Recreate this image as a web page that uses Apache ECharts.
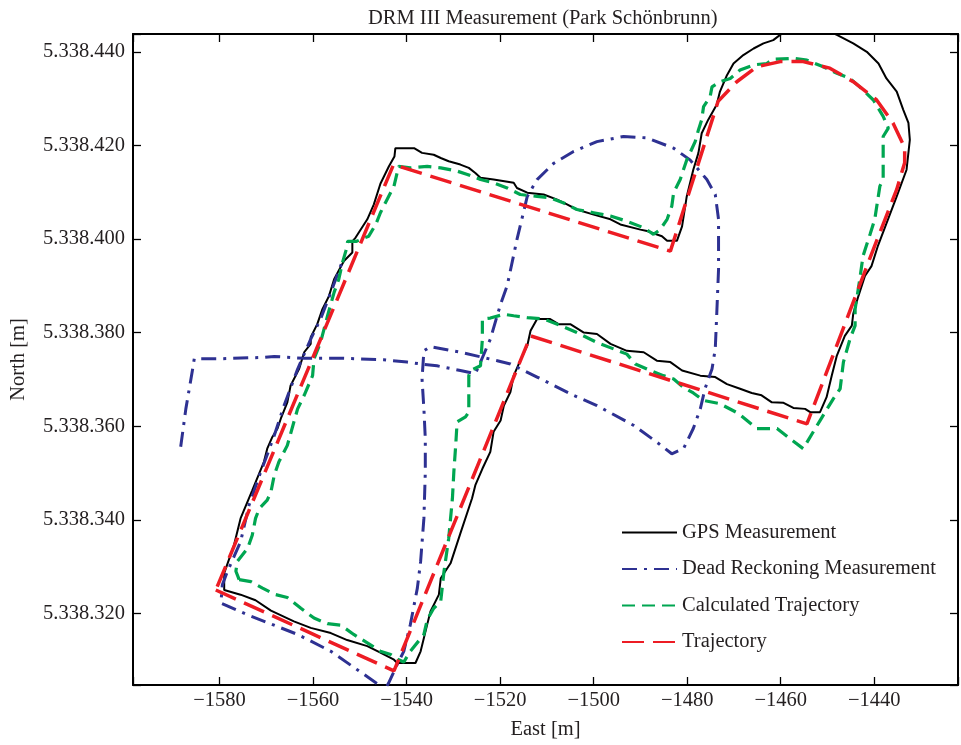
<!DOCTYPE html>
<html>
<head>
<meta charset="utf-8">
<title>DRM III Measurement</title>
<script src="https://cdn.jsdelivr.net/npm/echarts@6/dist/echarts.min.js"></script>
<style>
html, body { margin: 0; padding: 0; background: #fff; }
#chart { width: 961px; height: 745px; }
</style>
</head>
<body>
<div id="chart"></div>
<script>
// GPS measurement (black, solid)
const gpsEast = [-1579.0,-1579.0,-1575.5,-1572.3,-1569.0,-1564.1,-1560.5,-1556.2,-1552.7,-1548.4,
    -1545.6,-1542.7,-1542.0,-1538.1,-1537.0,-1535.6,-1534.9,-1533.1,-1532.7,-1530.6,
    -1528.5,-1526.0,-1525.3,-1523.8,-1522.1,-1521.4,-1519.9,-1519.2,-1517.8,-1517.1,
    -1515.7,-1514.2,-1513.5,-1512.1,-1509.3,-1507.5,-1505.0,-1502.1,-1499.3,-1496.4,
    -1492.9,-1489.3,-1486.5,-1483.6,-1481.1,-1477.2,-1474.0,-1471.5,-1468.7,-1466.2,
    -1464.1,-1461.9,-1459.4,-1457.3,-1454.8,-1453.7,-1451.6,-1450.2,-1449.1,-1448.0,
    -1446.3,-1444.8,-1444.5,-1443.4,-1442.0,-1440.6,-1439.2,-1435.2,-1433.1,-1432.4,
    -1432.7,-1433.8,-1435.2,-1437.4,-1439.1,-1441.6,-1444.5,-1448.0,-1449.9,-1459.1,
    -1461.6,-1463.7,-1465.8,-1468.0,-1470.1,-1471.5,-1473.0,-1473.7,-1475.5,-1476.9,
    -1477.6,-1478.7,-1480.1,-1481.1,-1482.2,-1484.3,-1485.4,-1488.6,-1490.0,-1494.3,
    -1496.4,-1500.0,-1503.6,-1505.7,-1507.8,-1510.7,-1514.2,-1516.4,-1517.1,-1521.4,
    -1524.2,-1525.3,-1526.7,-1528.5,-1531.0,-1532.7,-1534.2,-1536.7,-1538.4,-1542.4,
    -1542.6,-1543.8,-1545.6,-1547.0,-1548.4,-1550.9,-1551.6,-1551.6,-1553.4,-1555.5,
    -1556.6,-1558.0,-1559.1,-1560.5,-1560.5,-1561.9,-1563.0,-1564.8,-1565.5,-1566.9,
    -1567.6,-1568.7,-1569.8,-1570.5,-1573.0,-1575.5,-1576.9,-1579.0];
const gpsNorth = [5338328.6,5338325.0,5338324.0,5338322.8,5338320.6,5338318.3,5338316.9,5338315.8,5338314.3,5338313.0,
    5338311.6,5338310.1,5338309.4,5338309.4,5338311.9,5338317.6,5338320.4,5338324.0,5338327.5,5338330.7,
    5338337.1,5338344.6,5338347.4,5338350.9,5338354.5,5338358.8,5338361.2,5338364.4,5338367.3,5338370.8,
    5338374.0,5338377.2,5338380.4,5338382.9,5338382.9,5338381.8,5338381.8,5338380.0,5338379.7,5338377.6,
    5338376.1,5338375.8,5338374.0,5338373.7,5338371.9,5338370.8,5338370.5,5338369.0,5338368.0,5338367.1,
    5338366.6,5338365.1,5338365.0,5338363.9,5338363.7,5338363.0,5338363.0,5338366.2,5338370.8,5338375.1,
    5338379.3,5338381.5,5338384.0,5338387.8,5338392.1,5338394.2,5338398.6,5338409.1,5338414.8,5338421.2,
    5338424.8,5338427.6,5338431.5,5338434.3,5338437.5,5338440.0,5338441.8,5338443.6,5338444.4,5338444.4,
    5338442.5,5338441.8,5338440.7,5338439.3,5338437.5,5338435.0,5338431.5,5338428.7,5338425.5,5338422.6,
    5338418.4,5338414.8,5338409.1,5338402.7,5338399.6,5338399.6,5338400.6,5338401.7,5338402.0,5338403.1,
    5338404.2,5338405.2,5338406.3,5338407.4,5338408.4,5338409.5,5338409.9,5338410.9,5338412.0,5338412.7,
    5338413.1,5338414.1,5338415.2,5338415.9,5338416.6,5338417.3,5338418.0,5338418.4,5338419.4,5338419.4,
    5338417.6,5338415.5,5338411.8,5338407.4,5338404.2,5338400.3,5338399.5,5338397.1,5338395.3,5338391.4,
    5338387.8,5338385.0,5338381.8,5338379.0,5338377.6,5338375.8,5338372.2,5338368.7,5338365.1,5338361.6,
    5338359.5,5338357.7,5338355.2,5338352.4,5338346.3,5338340.3,5338334.6,5338328.6];

// dead reckoning (blue, dash-dot)
const drEast = [-1588.3,-1587.2,-1585.8,-1585.4,-1580.4,-1570.5,-1568.3,-1561.9,-1553.4,-1544.9,
    -1539.9,-1537.0,-1533.5,-1528.5,-1525.3,-1524.2,-1522.1,-1519.9,-1518.5,-1516.4,
    -1514.2,-1512.1,-1508.5,-1504.3,-1499.3,-1493.6,-1488.6,-1482.9,-1479.4,-1475.8,
    -1474.0,-1473.3,-1473.3,-1473.7,-1474.0,-1474.7,-1476.2,-1477.2,-1478.7,-1480.8,
    -1483.3,-1486.5,-1491.5,-1499.3,-1504.3,-1512.1,-1517.8,-1520.6,-1528.5,-1534.9,
    -1536.3,-1536.7,-1536.3,-1536.0,-1536.0,-1536.3,-1537.0,-1537.7,-1539.2,-1540.6,
    -1542.0,-1543.9,-1544.9,-1546.3,-1556.2,-1563.3,-1574.0,-1579.7,-1579.4,-1578.3,
    -1575.5,-1573.7,-1571.2,-1570.1,-1568.3,-1566.2,-1563.3,-1560.5,-1558.4,-1556.2,-1553.7];
const drNorth = [5338355.6,5338363.7,5338371.9,5338374.4,5338374.4,5338374.7,5338374.9,5338374.5,5338374.5,5338374.2,
    5338373.7,5338373.3,5338372.9,5338371.9,5338371.2,5338373.7,5338378.6,5338386.1,5338390.0,5338399.9,
    5338409.1,5338412.7,5338416.2,5338418.7,5338420.8,5338421.9,5338421.6,5338419.4,5338416.9,5338412.7,
    5338409.5,5338404.2,5338393.5,5338383.6,5338376.5,5338372.2,5338368.0,5338363.7,5338359.5,5338355.2,
    5338354.1,5338356.6,5338360.2,5338364.4,5338366.6,5338370.5,5338373.3,5338374.0,5338375.8,5338377.0,
    5338376.1,5338370.1,5338363.7,5338357.3,5338350.2,5338340.3,5338331.1,5338325.4,5338317.6,5338311.9,
    5338309.1,5338305.0,5338303.3,5338305.0,5338311.9,5338315.5,5338319.7,5338322.2,5338326.1,5338329.0,
    5338335.3,5338343.1,5338350.2,5338353.1,5338358.0,5338364.4,5338372.2,5338378.6,5338382.9,5338388.6,5338395.3];

// calculated trajectory (green, dashed)
const calcEast = [-1575.8,-1573.3,-1570.8,-1568.3,-1565.5,-1562.6,-1559.8,-1556.9,-1554.1,-1551.3,
    -1548.4,-1545.6,-1543.4,-1541.7,-1540.6,-1539.2,-1536.3,-1535.6,-1534.2,-1532.7,
    -1532.0,-1531.0,-1530.2,-1529.9,-1529.5,-1529.2,-1527.4,-1526.7,-1526.7,-1526.3,
    -1524.2,-1523.8,-1523.8,-1522.1,-1519.2,-1517.1,-1514.2,-1510.7,-1507.1,-1503.6,
    -1499.3,-1495.7,-1492.9,-1491.1,-1488.6,-1485.1,-1482.9,-1480.8,-1478.7,-1476.5,
    -1473.0,-1469.0,-1465.1,-1460.8,-1458.0,-1455.2,-1451.6,-1448.8,-1447.3,-1446.6,
    -1445.2,-1444.1,-1444.1,-1443.1,-1442.4,-1440.9,-1439.9,-1438.8,-1438.1,-1438.1,
    -1437.0,-1438.1,-1440.2,-1443.1,-1445.2,-1448.0,-1450.9,-1454.4,-1457.3,-1461.6,
    -1463.0,-1465.8,-1468.7,-1470.8,-1473.0,-1474.7,-1475.1,-1476.5,-1476.9,-1477.6,
    -1478.3,-1479.4,-1480.1,-1481.5,-1482.9,-1483.3,-1484.3,-1485.8,-1487.2,-1489.3,
    -1492.9,-1496.4,-1500.0,-1503.6,-1506.4,-1509.3,-1512.1,-1515.7,-1518.5,-1521.4,
    -1524.2,-1527.0,-1529.2,-1532.7,-1535.6,-1539.2,-1541.7,-1542.7,-1544.5,-1545.6,
    -1546.6,-1548.1,-1550.7,-1552.6,-1553.0,-1553.7,-1554.5,-1555.5,-1556.9,-1558.4,
    -1559.8,-1560.1,-1561.9,-1563.3,-1564.1,-1565.5,-1567.3,-1568.3,-1569.0,-1569.8,
    -1571.5,-1572.3,-1573.0,-1574.0,-1576.2,-1576.5,-1575.8];
const calcNorth = [5338327.2,5338326.8,5338325.4,5338324.1,5338323.4,5338321.1,5338319.0,5338317.8,5338317.5,5338315.5,
    5338313.7,5338311.9,5338311.2,5338310.1,5338309.6,5338311.9,5338315.5,5338318.6,5338321.1,5338322.6,
    5338329.0,5338336.0,5338344.6,5338350.2,5338355.9,5338360.9,5338362.0,5338363.0,5338370.8,5338371.9,
    5338372.9,5338378.6,5338382.9,5338383.1,5338383.9,5338383.6,5338383.2,5338382.9,5338381.5,5338380.0,
    5338377.9,5338376.5,5338375.4,5338373.3,5338372.2,5338370.8,5338370.1,5338368.3,5338367.1,5338365.5,
    5338364.8,5338362.7,5338359.5,5338359.5,5338357.3,5338355.2,5338361.2,5338365.8,5338368.0,5338373.7,
    5338378.6,5338381.5,5338385.0,5338391.4,5338396.4,5338401.0,5338404.2,5338411.3,5338412.7,5338421.9,
    5338423.7,5338426.2,5338429.7,5338432.5,5338434.3,5338435.4,5338436.8,5338438.2,5338438.6,5338438.4,
    5338437.5,5338437.2,5338436.1,5338434.3,5338433.6,5338432.5,5338430.4,5338428.3,5338425.5,5338423.3,
    5338420.8,5338418.4,5338416.9,5338412.7,5338409.9,5338407.0,5338404.2,5338402.0,5338401.0,5338402.4,
    5338403.8,5338404.9,5338405.6,5338406.3,5338407.7,5338408.8,5338409.1,5338409.5,5338410.9,5338412.0,
    5338412.7,5338413.8,5338414.5,5338415.2,5338415.5,5338415.2,5338415.5,5338411.3,5338407.8,5338405.6,
    5338403.1,5338400.6,5338399.5,5338399.5,5338397.4,5338395.0,5338391.4,5338388.6,5338383.6,5338377.9,
    5338374.4,5338370.8,5338366.6,5338363.7,5338360.9,5338355.9,5338352.4,5338349.5,5338346.0,5338344.2,
    5338342.4,5338340.3,5338336.7,5338333.9,5338331.1,5338329.0,5338327.2];

// planned trajectory (red, long dash)
const trajEast = [-1580.8,-1542.7,-1513.5,-1454.4,-1440.2,-1435.2,-1433.5,-1433.5,-1436.0,-1439.5,
    -1444.5,-1449.5,-1455.2,-1460.1,-1465.1,-1469.4,-1473.4,-1483.6,-1542.8,-1580.8];
const trajNorth = [5338325.0,5338307.7,5338379.3,5338360.5,5338397.8,5338410.6,5338416.3,5338419.5,5338424.8,5338429.7,
    5338433.6,5338436.5,5338437.9,5338437.9,5338436.8,5338433.6,5338429.4,5338397.4,5338415.9,5338325.0];

const xTicks = [-1580, -1560, -1540, -1520, -1500, -1480, -1460, -1440];
const yTicks = [5338320, 5338340, 5338360, 5338380, 5338400, 5338420, 5338440];

const font = 'Liberation Serif';
const textColor = '#231f20';

const zip = (xs, ys) => xs.map((x, i) => [x, ys[i]]);

const fmtX = v => {
    const r = Math.round(v);
    if (Math.abs(v - r) > 1e-6 || xTicks.indexOf(r) < 0) return '';
    return r < 0 ? '\u2212' + Math.abs(r) : String(r);
};
const fmtY = v => {
    const r = Math.round(v);
    if (Math.abs(v - r) > 1e-6 || yTicks.indexOf(r) < 0) return '';
    return String(r).replace(/\B(?=(\d{3})+(?!\d))/g, '.');
};

const axisLine = {show: true, onZero: false, lineStyle: {color: '#000', width: 2}};
const axisTick = {show: true, inside: true, length: 8, lineStyle: {color: '#000', width: 1.3}};
const xRange = {min: -1598.5, max: -1422.1, splitNumber: 8};
const yRange = {min: 5338304.7, max: 5338443.8, splitNumber: 7};

const chart = echarts.init(document.getElementById('chart'));
chart.setOption({
    animation: false,
    backgroundColor: '#fff',
    title: {
        text: 'DRM III Measurement (Park Schönbrunn)',
        left: 368,
        top: 8,
        padding: 0,
        textStyle: {fontFamily: font, fontSize: 20.5, fontWeight: 'normal', color: textColor},
    },
    grid: {left: 132, right: 3, top: 34, bottom: 58, containLabel: false},
    legend: {
        orient: 'vertical',
        left: 621,
        top: 522,
        padding: 0,
        itemWidth: 55,
        itemHeight: 14,
        itemGap: 15.5,
        itemStyle: {opacity: 0}, // no marker, just the line
        textStyle: {fontFamily: font, fontSize: 20.5, color: textColor, lineHeight: 20},
        data: ['GPS Measurement', 'Dead Reckoning Measurement', 'Calculated Trajectory', 'Trajectory'],
    },
    xAxis: [
        Object.assign({
            type: 'value',
            position: 'bottom',
            name: 'East [m]',
            nameLocation: 'middle',
            nameGap: 34,
            nameTextStyle: {fontFamily: font, fontSize: 20.5, color: textColor},
            axisLine, axisTick,
            splitLine: {show: false},
            axisLabel: {formatter: fmtX, margin: 5, fontFamily: font, fontSize: 20.5, color: textColor},
        }, xRange),
        Object.assign({
            type: 'value',
            position: 'top',
            axisLine, axisTick,
            splitLine: {show: false},
            axisLabel: {show: false},
        }, xRange),
    ],
    yAxis: [
        Object.assign({
            type: 'value',
            position: 'left',
            name: 'North [m]',
            nameLocation: 'middle',
            nameRotate: 90,
            nameGap: 104,
            nameTextStyle: {fontFamily: font, fontSize: 20.5, color: textColor},
            axisLine, axisTick,
            splitLine: {show: false},
            axisLabel: {formatter: fmtY, margin: 8, fontFamily: font, fontSize: 20.5, color: textColor},
        }, yRange),
        Object.assign({
            type: 'value',
            position: 'right',
            axisLine, axisTick,
            splitLine: {show: false},
            axisLabel: {show: false},
        }, yRange),
    ],
    series: [
        {
            name: 'GPS Measurement',
            type: 'line',
            data: zip(gpsEast, gpsNorth),
            symbol: 'none',
            itemStyle: {color: '#000000'},
            lineStyle: {color: '#000000', width: 2},
        },
        {
            name: 'Dead Reckoning Measurement',
            type: 'line',
            data: zip(drEast, drNorth),
            symbol: 'none',
            itemStyle: {color: '#2e3192'},
            lineStyle: {color: '#2e3192', width: 3, type: [15, 7, 3, 7]},
        },
        {
            name: 'Calculated Trajectory',
            type: 'line',
            data: zip(calcEast, calcNorth),
            symbol: 'none',
            itemStyle: {color: '#00a651'},
            lineStyle: {color: '#00a651', width: 3.2, type: [13, 7]},
        },
        {
            name: 'Trajectory',
            type: 'line',
            data: zip(trajEast, trajNorth),
            symbol: 'none',
            itemStyle: {color: '#ed1c24'},
            lineStyle: {color: '#ed1c24', width: 3.5, type: [22, 9]},
        },
    ],
});
</script>
</body>
</html>
